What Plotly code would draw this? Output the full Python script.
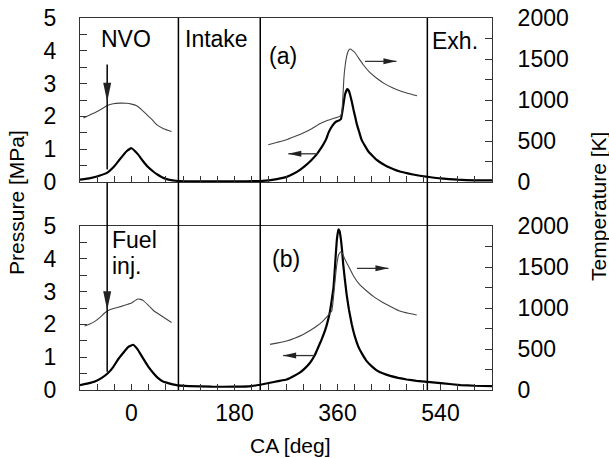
import plotly.graph_objects as go

# ---------------- data ----------------
# (a) upper panel: cylinder pressure [MPa]
ca_p_a = [-90, -72, -55, -43, -30, -20, -9, 0, 11, 20, 28, 38, 46, 55, 63, 72, 83, 120, 160, 200, 225,
          240, 254, 270, 283, 295, 306, 315, 324, 330, 335, 340, 344, 348, 353, 357, 360, 363, 366, 369,
          373, 377, 380, 382, 385, 388, 391, 394, 398, 402, 408, 414, 421, 428, 437, 446, 458, 469, 481,
          492, 504, 517, 540, 570, 600, 630]
p_a = [0.07, 0.12, 0.2, 0.28, 0.48, 0.7, 0.93, 1.03, 0.85, 0.64, 0.47, 0.32, 0.22, 0.13, 0.08, 0.05, 0.03,
       0.02, 0.02, 0.02, 0.03,
       0.05, 0.09, 0.15, 0.25, 0.38, 0.53, 0.68, 0.85, 1.0, 1.14, 1.3, 1.49, 1.63, 1.76, 1.83, 1.86, 1.88,
       1.92, 2.2, 2.66, 2.83, 2.78, 2.66, 2.45, 2.2, 1.98, 1.75, 1.52, 1.29, 1.1, 0.93, 0.8, 0.68, 0.57,
       0.48, 0.39, 0.32, 0.27, 0.23, 0.19, 0.16, 0.11, 0.07, 0.05, 0.05]

# (a) temperature [K], NVO part and combustion part
ca_t_a_nvo = [-84, -72, -60, -50, -43, -32, -20, -9, 0, 9, 18, 27, 36, 44, 56, 70]
t_a_nvo = [780, 820, 861, 900, 930, 955, 962, 960, 950, 930, 880, 820, 760, 700, 650, 617]
ca_t_a_cmb = [239, 255, 271, 285, 300, 315, 329, 340, 350, 358, 364, 367, 369, 371, 373, 376, 379, 382,
              386, 391, 397, 405, 416, 428, 442, 457, 470, 481, 490, 499]
t_a_cmb = [455, 485, 516, 555, 598, 650, 711, 745, 768, 785, 800, 830, 980, 1248, 1400, 1532, 1600, 1622,
           1605, 1573, 1510, 1430, 1340, 1268, 1200, 1146, 1110, 1085, 1068, 1052]

# (b) lower panel: cylinder pressure [MPa]
ca_p_b = [-90, -76, -64, -52, -41, -32, -24, -15, -6, 3, 11, 20, 29, 38, 46, 55, 64, 72, 81, 100, 140,
          180, 210, 225,
          242, 256, 271, 283, 294, 303, 312, 320, 326, 332, 338, 343, 347, 350, 353, 355, 357, 359, 361.5,
          363.5, 365.6, 368, 370, 373, 376, 380, 385, 390, 396, 403, 411, 420, 428.5, 440, 452, 466, 481,
          498, 517, 545, 575, 600, 630]
p_b = [0.15, 0.2, 0.26, 0.37, 0.52, 0.7, 0.92, 1.12, 1.31, 1.38, 1.23, 0.97, 0.72, 0.52, 0.37, 0.26, 0.21,
       0.17, 0.14, 0.12, 0.1, 0.1, 0.12, 0.16,
       0.22, 0.27, 0.32, 0.42, 0.53, 0.66, 0.83, 1.05, 1.29, 1.53, 1.8, 2.1, 2.41, 2.75, 3.12, 3.6, 4.13,
       4.6, 4.9, 4.85, 4.64, 4.25, 3.83, 3.35, 2.91, 2.45, 2.0, 1.65, 1.34, 1.1, 0.88, 0.72, 0.6, 0.5,
       0.43, 0.37, 0.32, 0.28, 0.25, 0.2, 0.15, 0.13, 0.12]

# (b) temperature [K]
ca_t_b_nvo = [-82, -73, -64, -55, -47, -38, -28, -18, -9, 0, 6, 11, 16, 20, 30, 40, 50, 58, 70]
t_b_nvo = [780, 805, 837, 885, 939, 979, 1000, 1020, 1040, 1061, 1090, 1110, 1105, 1093, 1030, 960, 915,
           878, 824]
ca_t_b_cmb = [242, 256, 271, 285, 300, 312, 324, 333, 341, 346, 350, 353, 356, 359, 362, 365.6, 369, 373,
              380, 388, 397, 411, 425, 440, 455, 469, 484, 498.5]
t_b_cmb = [556, 575, 598, 632, 678, 725, 780, 830, 890, 930, 964, 1130, 1350, 1540, 1650, 1686, 1660, 1593,
           1500, 1390, 1300, 1207, 1130, 1065, 1010, 963, 935, 915]

# phase boundaries [deg CA] and tick labels
phase_lines = [82, 225, 517]
x_ticks = [0, 180, 360, 540]

# ---------------- layout constants ----------------
W, H = 609, 458
ML, MR, MT, MB = 80, 117, 18, 68
X_RANGE = [-90, 630]
P_RANGE = [0, 5]
T_RANGE = [0, 2000]
plot_w = W - ML - MR
plot_h = H - MT - MB
panel_h = 164
top_dom = [(plot_h - panel_h) / plot_h, 1.0]
bot_dom = [0.0, panel_h / plot_h]
px_per_deg = plot_w / (X_RANGE[1] - X_RANGE[0])
px_per_mpa = panel_h / (P_RANGE[1] - P_RANGE[0])

FONT = "Liberation Sans, Arial, sans-serif"
AX = "#333333"

fig = go.Figure()
spl = dict(shape="spline", smoothing=0.35)
fig.add_trace(go.Scatter(x=ca_p_a, y=p_a, xaxis="x", yaxis="y", mode="lines",
                         line=dict(color="black", width=2.2, **spl)))
fig.add_trace(go.Scatter(x=ca_t_a_nvo, y=t_a_nvo, xaxis="x", yaxis="y2", mode="lines",
                         line=dict(color="#444444", width=1.1, **spl)))
fig.add_trace(go.Scatter(x=ca_t_a_cmb, y=t_a_cmb, xaxis="x", yaxis="y2", mode="lines",
                         line=dict(color="#444444", width=1.1, **spl)))
fig.add_trace(go.Scatter(x=ca_p_b, y=p_b, xaxis="x2", yaxis="y3", mode="lines",
                         line=dict(color="black", width=2.2, **spl)))
fig.add_trace(go.Scatter(x=ca_t_b_nvo, y=t_b_nvo, xaxis="x2", yaxis="y4", mode="lines",
                         line=dict(color="#444444", width=1.1, **spl)))
fig.add_trace(go.Scatter(x=ca_t_b_cmb, y=t_b_cmb, xaxis="x2", yaxis="y4", mode="lines",
                         line=dict(color="#444444", width=1.1, **spl)))

tickfont = dict(family=FONT, size=23, color="black")
common_x = dict(range=X_RANGE, showline=True, linecolor=AX, linewidth=1, mirror=True,
                ticks="inside", ticklen=6, tickcolor=AX, tick0=0, dtick=180,
                minor=dict(dtick=30, ticks="inside", ticklen=6, tickcolor=AX),
                showgrid=False, zeroline=False, tickfont=tickfont)
fig.update_layout(
    xaxis=dict(common_x, domain=[0, 1], anchor="y", showticklabels=False),
    xaxis2=dict(common_x, domain=[0, 1], anchor="y3", matches="x", tickvals=x_ticks,
                ticklabelstandoff=2),
)
left_y = dict(range=P_RANGE, dtick=1, ticks="inside", ticklen=7, tickcolor=AX, showline=True,
              linecolor=AX, linewidth=1, showgrid=False, zeroline=False, tickfont=tickfont,
              minor=dict(dtick=0.5, ticks="inside", ticklen=7, tickcolor=AX),
              ticklabelstandoff=18)
right_y = dict(range=T_RANGE, dtick=500, ticks="inside", ticklen=7, tickcolor=AX, showline=True,
               linecolor=AX, linewidth=1, showgrid=False, zeroline=False, tickfont=tickfont,
               minor=dict(dtick=250, ticks="inside", ticklen=7, tickcolor=AX), side="right",
               ticklabelstandoff=20)
fig.update_layout(
    yaxis=dict(left_y, domain=top_dom, anchor="x"),
    yaxis2=dict(right_y, domain=top_dom, anchor="x", overlaying="y"),
    yaxis3=dict(left_y, domain=bot_dom, anchor="x2"),
    yaxis4=dict(right_y, domain=bot_dom, anchor="x2", overlaying="y3"),
)

shapes = []
# phase boundary lines through both panels
for xv in phase_lines:
    shapes.append(dict(type="line", xref="x", yref="paper", x0=xv, x1=xv, y0=0, y1=1,
                       line=dict(color="black", width=1.5)))

# ---- arrows ----
inj_x = -42.5
shapes.append(dict(type="line", xref="x", yref="y", x0=inj_x, x1=inj_x, y0=3.58, y1=0.38,
                   line=dict(color="black", width=1.5)))
gap_top = top_dom[0]
shapes.append(dict(type="line", xref="x", yref="paper", x0=inj_x, x1=inj_x, y0=gap_top - 0.002,
                   y1=(390.3 - 372) / plot_h, line=dict(color="black", width=1.5)))


def vhead(xref, yref, x, ytip, length_px=19, half_px=4):
    dx = half_px / px_per_deg
    dy = length_px / px_per_mpa
    return dict(type="path", xref=xref, yref=yref, fillcolor="#222222", line=dict(width=0),
                path=f"M {x - dx},{ytip + dy} L {x + dx},{ytip + dy} L {x},{ytip} Z")


def hhead(xref, yref, xtip, y, direction, length_px=13, half_px=3):
    dx = direction * length_px / px_per_deg
    dy = half_px / px_per_mpa
    return dict(type="path", xref=xref, yref=yref, fillcolor="#222222", line=dict(width=0),
                path=f"M {xtip - dx},{y - dy} L {xtip - dx},{y + dy} L {xtip},{y} Z")


shapes.append(vhead("x", "y", inj_x, 2.45))
shapes.append(vhead("x", "y3", inj_x, 2.43))

# horizontal arrows: (yref, tail_x, tip_x, y)
h_arrows = [("y", 326, 274, 0.86), ("y", 408, 463, 3.68),
            ("y3", 320, 265, 1.05), ("y3", 394, 449, 3.71)]
for yref, xs, xt, yv in h_arrows:
    shapes.append(dict(type="line", xref="x", yref=yref, x0=xs, x1=xt, y0=yv, y1=yv,
                       line=dict(color="#333333", width=1.3)))
    shapes.append(hhead("x", yref, xt, yv, 1 if xt > xs else -1))

fig.update_layout(shapes=shapes)

# ---- text ----
lab = dict(family=FONT, size=23, color="black")
ctr = dict(showarrow=False, xanchor="center", yanchor="middle")
annotations = [
    dict(text="NVO", x=-9, y=4.37, xref="x", yref="y", font=lab, **ctr),
    dict(text="Intake", x=149, y=4.37, xref="x", yref="y", font=lab, **ctr),
    dict(text="(a)", x=265, y=3.85, xref="x", yref="y", font=lab, **ctr),
    dict(text="Exh.", x=565, y=4.3, xref="x", yref="y", font=lab, **ctr),
    dict(text="Fuel", x=-38, y=4.57, xref="x", yref="y3", showarrow=False, font=lab,
         xanchor="left", yanchor="middle"),
    dict(text="inj.", x=-38, y=3.79, xref="x", yref="y3", showarrow=False, font=lab,
         xanchor="left", yanchor="middle"),
    dict(text="(b)", x=270, y=4.0, xref="x", yref="y3", font=lab, **ctr),
    dict(text="Pressure [MPa]", x=(17 - ML) / plot_w, y=0.503, xref="paper", yref="paper",
         textangle=-90, font=dict(family=FONT, size=21, color="black"), **ctr),
    dict(text="Temperature [K]", x=(599 - ML) / plot_w, y=0.492, xref="paper", yref="paper",
         textangle=-90, font=dict(family=FONT, size=21, color="black"), **ctr),
    dict(text="CA [deg]", x=(290 - ML) / plot_w, y=-(446 - 390.3) / plot_h, xref="paper", yref="paper",
         font=dict(family=FONT, size=21, color="black"), **ctr),
]
fig.update_layout(annotations=annotations)

fig.update_layout(width=W, height=H, margin=dict(l=ML, r=MR, t=MT, b=MB, autoexpand=False),
                  paper_bgcolor="white", plot_bgcolor="white", showlegend=False,
                  font=dict(family=FONT, color="black"))

fig.write_html("out.html", config={"displayModeBar": False},
               post_script="document.body.style.margin='0px';document.body.style.overflow='hidden';")
